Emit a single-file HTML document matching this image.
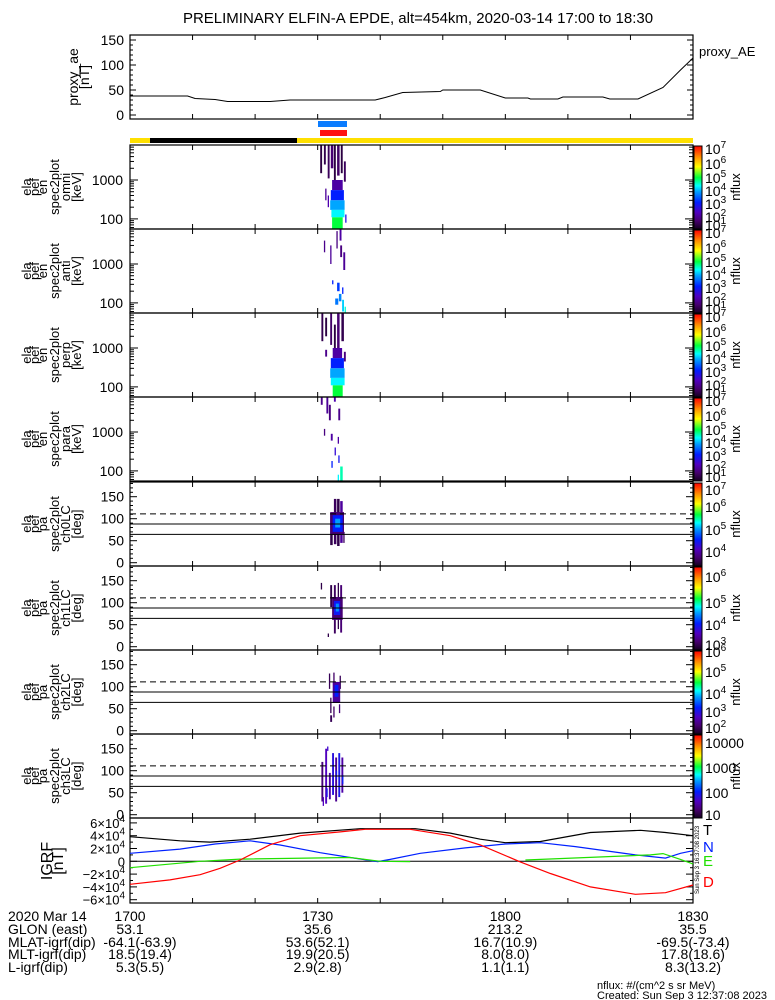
<!DOCTYPE html>
<html><head><meta charset="utf-8"><style>
html,body{margin:0;padding:0;background:#fff}
svg{display:block;font-family:"Liberation Sans",sans-serif}
</style></head><body>
<svg id="fig" width="775" height="1000" viewBox="0 0 775 1000" xmlns="http://www.w3.org/2000/svg">
<rect x="0" y="0" width="775" height="1000" fill="#fff"/>
<text x="418" y="23" font-size="15" text-anchor="middle">PRELIMINARY ELFIN-A EPDE, alt=454km, 2020-03-14 17:00 to 18:30</text>
</svg>
<script>
// ---------- DATA ----------
const aeTimes = [0, 9.2, 10.4, 13.6, 15.6, 22.4, 25.6, 39.2, 40.8, 43.6, 49.6, 50.0, 56.0, 60.0, 63.6, 64.0, 68.4, 69.2, 75.6, 76.7, 81.2, 85.2, 88.0, 90];
const aeValues = [38, 38, 33, 31, 27, 27, 30, 30, 35, 45, 47, 50, 50, 34, 34, 32, 32, 36, 36, 32, 32, 55, 90, 114];
const aeTicks = [0, 50, 100, 150];

const igrfT_t = [0, 8.0, 12.8, 19.2, 27.2, 36.8, 45.6, 51.2, 56.0, 60.0, 65.6, 73.6, 81.6, 85.6, 90];
const igrfT_v = [3.85, 3.2, 3.0, 3.45, 4.4, 5.1, 5.1, 4.4, 3.45, 2.9, 3.1, 4.5, 4.85, 4.5, 4.0];
const igrfN_t = [0, 8.0, 13.6, 19.2, 24.0, 30.4, 35.2, 39.6, 41.6, 46.4, 53.6, 60.0, 65.6, 71.2, 80.8, 85.6, 88.0, 90];
const igrfN_v = [1.25, 1.9, 2.7, 3.2, 2.55, 1.35, 0.6, -0.05, 0.3, 1.25, 2.1, 2.7, 2.9, 2.3, 1.0, 0.5, 1.25, 1.65];
const igrfE_t = [0, 11.2, 17.6, 35.2, 40.0, 44.8];
const igrfE_v = [-1.0, 0, 0.35, 0.6, 0, -0.05];
const igrfE2_t = [63.2, 83.2, 85.2, 88.0, 90];
const igrfE2_v = [0.2, 1.0, 1.2, 0.3, -0.4];
const igrfD_t = [0, 6.4, 11.2, 14.4, 17.6, 22.4, 27.2, 33.6, 37.6, 44.8, 51.2, 56.0, 62.4, 67.2, 73.6, 80.8, 85.6, 90];
const igrfD_v = [-3.6, -2.9, -2.1, -1.1, 0.2, 2.6, 4.0, 4.6, 5.0, 5.0, 4.0, 2.55, -0.1, -1.9, -4.0, -5.15, -4.9, -3.7];
const igrfTickVals = [6, 4, 2, 0, -2, -4, -6];

// spectrogram cells: [tStart(min), tEnd(min), eLow(keV), eHigh(keV), log10 nflux]
const specOmni = [
 [30.4,30.7,1500,7900,0.9],[31.0,31.3,2500,7900,1.0],[31.6,31.9,1100,7900,1.1],[32.1,32.5,2000,7900,1.3],
 [32.6,32.9,900,7900,0.9],[33.1,33.5,1300,7900,1.2],[33.7,34.0,1500,7900,0.9],[34.2,34.5,900,3000,1.1],
 [31.2,31.4,300,600,1.6],[31.6,31.8,200,400,1.8],[32.3,34.0,550,1000,1.7],[32.1,34.2,300,550,2.7],
 [32.0,34.3,170,300,3.6],[32.2,34.3,110,170,4.0],[32.3,34.0,55,110,4.7],[34.4,34.6,80,130,2.4]
];
const specAnti = [
 [31.0,31.2,2000,4000,1.5],[32.0,32.2,1000,3000,1.6],[33.0,33.2,2500,7000,1.4],[33.5,33.8,4000,7900,1.7],
 [34.1,34.4,700,2000,1.6],[33.6,33.9,1500,3000,1.4],[32.3,32.5,300,380,2.7],[33.1,33.5,200,330,2.9],
 [33.9,34.1,170,250,2.7],[33.4,33.8,110,170,3.4],[32.8,33.3,90,130,3.3],[33.9,34.2,60,120,3.8],[34.3,34.5,55,80,4.2]
];
const specPerp = [
 [30.6,30.9,1500,7900,1.0],[31.2,31.5,2000,6000,0.9],[32.0,32.3,1200,7900,1.2],[32.6,32.9,1000,4000,0.9],
 [33.1,33.5,800,7900,1.3],[33.8,34.2,1500,7900,1.0],[31.2,31.5,600,900,1.5],[34.2,34.5,450,800,1.4],
 [32.4,33.9,550,1000,1.7],[32.1,34.2,300,550,2.7],[32.0,34.3,170,300,3.6],[32.1,34.3,110,170,4.0],[32.4,34.0,55,110,4.7]
];
const specPara = [
 [30.5,30.8,5000,7900,1.5],[31.4,31.7,3000,7900,1.6],[31.8,32.1,2000,5000,1.4],[32.6,32.9,6000,7900,1.8],
 [33.3,33.6,2000,4000,1.5],[31.0,31.2,800,1200,1.4],[32.1,32.4,600,900,1.7],[33.2,33.4,500,750,1.7],
 [32.7,32.9,250,400,2.2],[33.3,33.5,160,250,2.5],[32.2,32.4,120,180,2.7],[33.6,34.0,55,130,4.3],[33.2,33.4,55,80,4.0]
];
// pitch-angle cells: [tStart, tEnd, degLow, degHigh, log10 nflux]
const pa0 = [
 [32.0,32.4,40,110,3.8],[32.6,33.0,42,145,3.9],[33.1,33.5,38,145,3.8],[33.6,34.0,45,140,4.2],[34.1,34.3,45,70,3.9],
 [32.0,34.2,63,115,4.0],[32.4,34.0,70,108,4.8],[32.8,33.6,80,100,5.3]
];
const pa1 = [
 [30.5,30.7,130,145,3.0],[32.0,32.3,90,140,3.0],[32.6,32.9,30,140,3.1],[33.2,33.4,40,145,3.0],[33.6,33.9,32,140,3.2],
 [31.6,31.8,22,30,3.0],[32.3,34.0,61,113,3.2],[32.6,33.6,72,104,3.9],[32.9,33.4,80,98,4.4]
];
const pa2 = [
 [31.8,32.0,95,130,2.2],[32.5,32.7,110,132,2.3],[33.5,33.7,95,125,2.2],[32.0,32.2,40,75,2.2],[32.5,32.7,30,55,2.3],
 [33.4,33.6,40,60,2.4],[32.0,32.3,20,35,2.2],[32.4,33.6,63,111,2.6],[32.7,33.3,77,104,3.3]
];
const pa3 = [
 [30.6,30.9,30,120,1.3],[31.2,31.5,25,150,1.6],[31.8,32.1,35,95,1.5],[32.3,32.6,45,140,1.8],[32.8,33.1,30,130,1.4],
 [33.3,33.6,40,140,1.9],[33.8,34.1,50,130,1.5],[31.4,31.6,40,60,1.9],[32.9,33.1,80,100,1.9],[33.9,34.1,70,90,2.0],
 [30.8,31.0,20,40,1.6],[31.5,31.7,145,155,1.7]
];
const paCbLabels0 = [7,6,5,4];
const paCbLabels1 = [6,5,4,3];
const paCbLabels2 = [6,5,4,3,2];
const paCbLabels3 = ['10000','1000','100','10'];

// ---------- DRAWING ----------
const svg = document.getElementById('fig');
const NS = 'http://www.w3.org/2000/svg';
const XL = 130, XR = 693;
function X(m){ return XL + m*(XR-XL)/90; }
function mk(tag, attrs, name){
  const el = document.createElementNS(NS, tag);
  for (const k in attrs) el.setAttribute(k, attrs[k]);
  
  
  svg.appendChild(el);
  return el;
}
function line(x1,y1,x2,y2,name,extra){
  const a = {x1,y1,x2,y2,stroke:'#000','stroke-width':1};
  if (extra) Object.assign(a, extra);
  return mk('line', a, name);
}
function txt(x,y,s,size,name,anchor,extra){
  const a = {x,y,'font-size':size,'text-anchor':anchor||'start'};
  if (extra) Object.assign(a, extra);
  const t = mk('text', a, name);
  t.textContent = s;
  return t;
}
const cmapStops = [[0,[20,0,30]],[0.1,[70,0,110]],[0.2,[80,0,190]],[0.32,[0,30,255]],[0.45,[0,160,255]],[0.52,[0,255,255]],[0.62,[0,255,60]],[0.75,[255,255,0]],[0.87,[255,140,0]],[1,[255,0,0]]];
function cmap(v){
  v = Math.max(0, Math.min(1, v));
  for (let i=1;i<cmapStops.length;i++){
    if (v <= cmapStops[i][0]){
      const a = cmapStops[i-1], b = cmapStops[i];
      const f = (v-a[0])/(b[0]-a[0]);
      const c = a[1].map((q,j)=>Math.round(q+(b[1][j]-q)*f));
      return 'rgb('+c.join(',')+')';
    }
  }
  return 'rgb(255,0,0)';
}
const defs = document.createElementNS(NS,'defs');
const grad = document.createElementNS(NS,'linearGradient');
grad.setAttribute('id','cbgrad'); grad.setAttribute('x1','0'); grad.setAttribute('y1','1'); grad.setAttribute('x2','0'); grad.setAttribute('y2','0');
cmapStops.forEach(s=>{ const st=document.createElementNS(NS,'stop'); st.setAttribute('offset',s[0]); st.setAttribute('stop-color','rgb('+s[1].join(',')+')'); grad.appendChild(st); });
defs.appendChild(grad); svg.appendChild(defs);

function xTicks(top, bot, name){
  for (let m=10;m<90;m+=10){
    line(X(m),top,X(m),top+5,name+'-xtick-top');
    line(X(m),bot,X(m),bot-5,name+'-xtick-bottom');
  }
}
function frame(top,bot,name){
  mk('rect',{x:XL,y:top,width:XR-XL,height:bot-top,fill:'none',stroke:'#000','stroke-width':1.2},name+'-frame');
}
function rotLabel(lines, xs, yc, size, name){
  lines.forEach((s,i)=>{
    txt(xs[i], yc, s, size, name+'-line', 'middle', {transform:'rotate(-90 '+xs[i]+' '+yc+')'});
  });
}
function colorbar(top,bot,name){
  mk('rect',{x:694,y:top+1,width:8,height:bot-top-1,fill:'url(#cbgrad)',stroke:'#000','stroke-width':1},name+'-colorbar');
  txt(740,(top+bot)/2,'nflux',13,name+'-colorbar-title','middle',{transform:'rotate(-90 740 '+((top+bot)/2)+')'});
}
function supLabel(x,y,exp,name){
  const t = txt(x,y,'10',14,name,'start');
  const s = document.createElementNS(NS,'tspan');
  s.setAttribute('dy','-6'); s.setAttribute('font-size','10'); s.textContent = exp;
  t.appendChild(s);
}

// ---- proxy AE panel ----
(function(){
  const top=35, bot=119;
  const Y = v => 115 - v*0.5;
  frame(top,bot,'proxy-ae-panel');
  xTicks(top,bot,'proxy-ae');
  for (let v=0; v<=160; v+=10){
    const len = v%50===0?6:3;
    line(XL,Y(v),XL+len,Y(v),'proxy-ae-ytick-left');
    line(XR,Y(v),XR-len,Y(v),'proxy-ae-ytick-right');
  }
  aeTicks.forEach(v=>txt(124,Y(v)+5,String(v),14,'proxy-ae-ytick-label','end'));
  const d = aeTimes.map((t,i)=>(i?'L':'M')+X(t).toFixed(1)+','+Y(aeValues[i]).toFixed(1)).join(' ');
  mk('path',{d,fill:'none',stroke:'#000','stroke-width':1},'proxy-ae-line');
  rotLabel(['proxy_ae','[nT]'],[78,89],77,14,'proxy-ae-ytitle');
  txt(699,56,'proxy_AE',13,'proxy-ae-legend','start');
})();

// ---- orbit/status bars ----
mk('rect',{x:318,y:121,width:29,height:6,fill:'#0a7cff'},'science-zone-blue-bar');
mk('rect',{x:320,y:130,width:27,height:6,fill:'#ff1010'},'science-zone-red-bar');
mk('rect',{x:XL,y:138,width:XR-XL,height:5,fill:'#ffe000'},'sunlight-bar');
mk('rect',{x:150,y:138,width:147,height:5,fill:'#000'},'eclipse-bar');

// ---- energy spectrogram panels ----
const specPanels = [
  [specOmni,'omni'],[specAnti,'anti'],[specPerp,'perp'],[specPara,'para']
];
specPanels.forEach((p,idx)=>{
  const top = 145 + idx*84, bot = top+84;
  const name = 'spec-'+p[1]+'-panel';
  const Y = e => top + (3.9 - Math.log10(e))/2.16*84;
  p[0].forEach(c=>{
    const y1 = Math.max(top, Y(c[3])), y2 = Math.min(bot, Y(c[2]));
    mk('rect',{x:X(c[0]).toFixed(1),y:y1.toFixed(1),width:(X(c[1])-X(c[0])).toFixed(1),height:(y2-y1).toFixed(1),fill:cmap((c[4]-0.6)/6.6)},name+'-cell');
  });
  frame(top,bot,name);
  xTicks(top,bot,name);
  for (let k=1;k<=3;k++) for (let m=1;m<10;m++){
    const e = m*Math.pow(10,k), y = Y(e);
    if (y<top||y>bot) continue;
    const len = m===1?8:4;
    line(XL,y,XL+len,y,name+'-ytick-left');
    line(XR,y,XR-len,y,name+'-ytick-right');
  }
  txt(123,Y(1000)+5,'1000',14,name+'-ytick-label','end');
  txt(123,Y(100)+5,'100',14,name+'-ytick-label','end');
  rotLabel(['ela','pef','en','spec2plot',p[1],'[keV]'],[31,39,47,59,70,81],(top+bot)/2,13,name+'-ytitle');
  colorbar(top,bot,name);
  const lbl = [[7,2],[6,17],[5,31],[4,44],[3,57],[2,70],[1,78]];
  lbl.forEach(l=>supLabel(705,top+l[1]+7,String(l[0]),name+'-colorbar-label'));
});

// ---- pitch-angle panels ----
const paPanels = [[pa0,'ch0LC',3.6,7.4,paCbLabels0],[pa1,'ch1LC',2.8,6.5,paCbLabels1],[pa2,'ch2LC',1.9,6.3,paCbLabels2],[pa3,'ch3LC',0.9,4.4,paCbLabels3]];
const paCbY = [[8,25,48,70],[11,37,59,79],[2,22,44,62,78],[9,34,59,81]];
paPanels.forEach((p,idx)=>{
  const top = 482 + idx*84, bot = top+84;
  const name = 'pa-'+p[1]+'-panel';
  const Y = d => top + 80.7 - d*0.44;
  p[0].forEach(c=>{
    const y1 = Y(c[3]), y2 = Y(c[2]);
    mk('rect',{x:X(c[0]).toFixed(1),y:y1.toFixed(1),width:(X(c[1])-X(c[0])).toFixed(1),height:(y2-y1).toFixed(1),fill:cmap((c[4]-p[2])/(p[3]-p[2]))},name+'-cell');
  });
  frame(top,bot,name);
  xTicks(top,bot,name);
  line(XL,Y(111),XR,Y(111),name+'-anti-loss-cone-line',{'stroke-dasharray':'6,4'});
  line(XL,Y(88),XR,Y(88),name+'-perp-line');
  line(XL,Y(64.5),XR,Y(64.5),name+'-loss-cone-line');
  for (let v=0; v<=180; v+=10){
    const len = v%50===0?7:3;
    line(XL,Y(v),XL+len,Y(v),name+'-ytick-left');
    line(XR,Y(v),XR-len,Y(v),name+'-ytick-right');
  }
  [0,50,100,150].forEach(v=>txt(124,Y(v)+5,String(v),14,name+'-ytick-label','end'));
  rotLabel(['ela','pef','pa','spec2plot',p[1],'[deg]'],[31,39,47,59,70,81],(top+bot)/2,13,name+'-ytitle');
  colorbar(top,bot,name);
  p[4].forEach((l,i)=>{
    if (typeof l==='string') txt(705,top+paCbY[idx][i]+5,l,14,name+'-colorbar-label','start');
    else supLabel(705,top+paCbY[idx][i]+5,String(l),name+'-colorbar-label');
  });
});

// ---- IGRF panel ----
(function(){
  const top=818, bot=903;
  const Y = v => Math.max(top, Math.min(bot, 861.3 - v*6.4));
  frame(top,bot,'igrf-panel');
  xTicks(top,bot,'igrf');
  line(XL,Y(0),XR,Y(0),'igrf-zero-line');
  for (let v=-6; v<=6; v+=1){
    const len = v%2===0?7:3;
    line(XL,Y(v),XL+len,Y(v),'igrf-ytick-left');
    line(XR,Y(v),XR-len,Y(v),'igrf-ytick-right');
  }
  igrfTickVals.forEach(v=>{
    const t = txt(125,Y(v)+5,(v<0?'\u2212':'')+(v===0?'0':Math.abs(v)+'\u00d710'),13,'igrf-ytick-label','end');
    if (v!==0){ const s=document.createElementNS(NS,'tspan'); s.setAttribute('dy','-6'); s.setAttribute('font-size','10'); s.textContent='4'; t.appendChild(s); }
  });
  const series = [[igrfT_t,igrfT_v,'#000','igrf-T-line'],[igrfN_t,igrfN_v,'#0020ff','igrf-N-line'],[igrfE_t,igrfE_v,'#20e000','igrf-E-line'],[igrfE2_t,igrfE2_v,'#20e000','igrf-E-line-2'],[igrfD_t,igrfD_v,'#ff0000','igrf-D-line']];
  series.forEach(s=>{
    const d = s[0].map((t,i)=>(i?'L':'M')+X(t).toFixed(1)+','+Y(s[1][i]).toFixed(1)).join(' ');
    mk('path',{d,fill:'none',stroke:s[2],'stroke-width':1.2},s[3]);
  });
  rotLabel(['IGRF','[nT]'],[52,63],861,16,'igrf-ytitle');
  txt(703,835,'T',15,'igrf-legend-T','start');
  txt(703,852,'N',15,'igrf-legend-N','start',{fill:'#0020ff'});
  txt(703,866,'E',15,'igrf-legend-E','start',{fill:'#20e000'});
  txt(703,887,'D',15,'igrf-legend-D','start',{fill:'#ff0000'});
  txt(699,860,'Sun Sep  3 16:37:08 2023',6,'created-stamp-vertical','middle',{transform:'rotate(-90 699 860)'});
})();

// ---- footer annotation ----
const footRows = [
  ['2020 Mar 14','1700','1730','1800','1830'],
  ['GLON (east)','53.1','35.6','213.2','35.5'],
  ['MLAT-igrf(dip)','-64.1(-63.9)','53.6(52.1)','16.7(10.9)','-69.5(-73.4)'],
  ['MLT-igrf(dip)','18.5(19.4)','19.9(20.5)','8.0(8.0)','17.8(18.6)'],
  ['L-igrf(dip)','5.3(5.5)','2.9(2.8)','1.1(1.1)','8.3(13.2)']
];
const footY = [921,934,947,959,972];
footRows.forEach((r,i)=>{
  txt(8,footY[i],r[0],14,'footer-row-label','start');
  [0,30,60,90].forEach((m,j)=>txt(X(m)+(i>=2&&j===0?10:0),footY[i],r[j+1],14,'footer-value','middle'));
});
txt(597,989,'nflux: #/(cm^2 s sr MeV)',11,'units-note','start');
txt(597,999,'Created: Sun Sep  3 12:37:08 2023',11,'created-note','start');
</script>
</body></html>
